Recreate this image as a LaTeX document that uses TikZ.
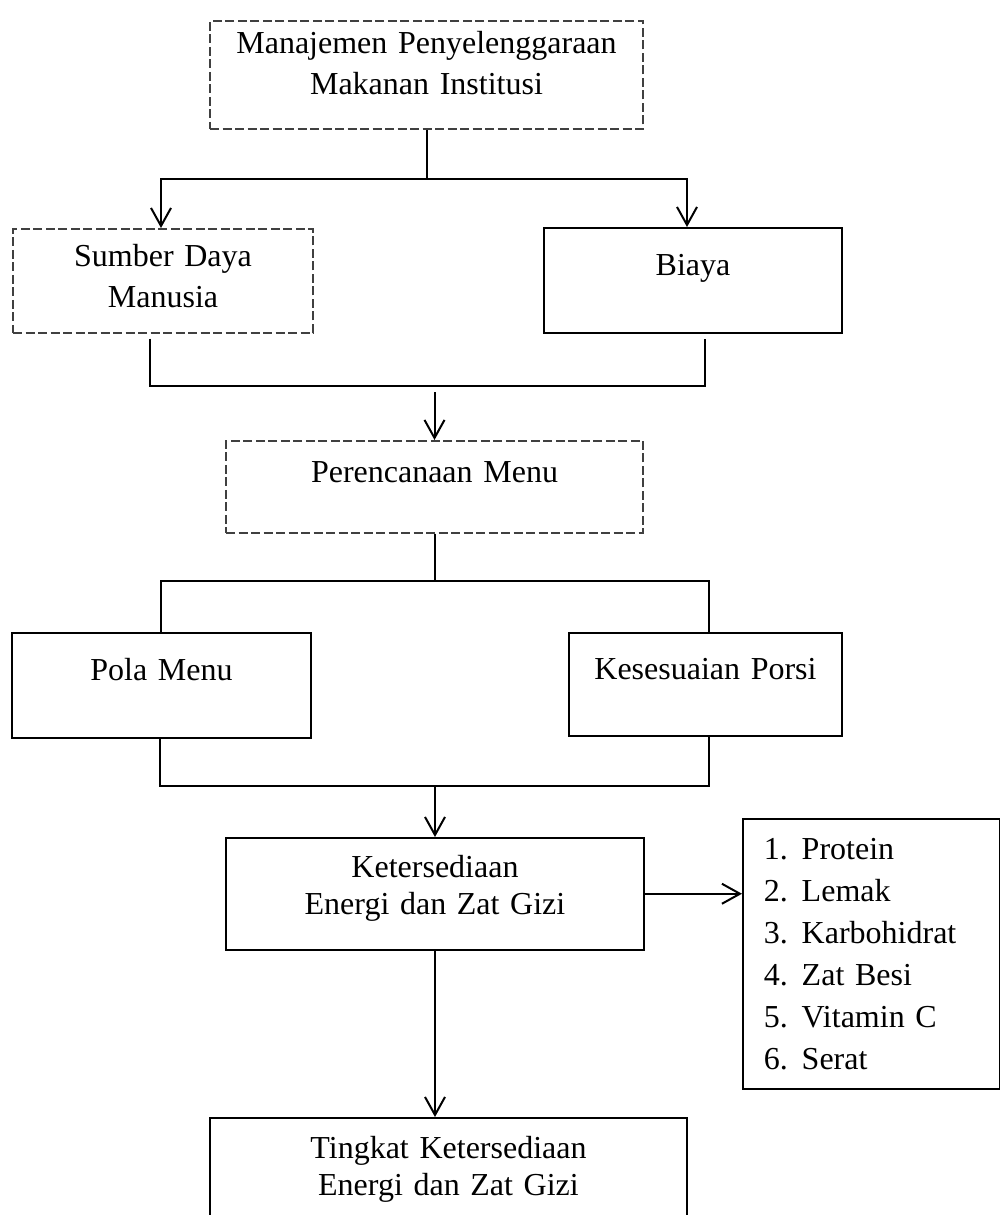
\documentclass[tikz,border=0pt]{standalone}
\usepackage{fontspec}
\setmainfont{Liberation Serif}
\usetikzlibrary{arrows.meta,positioning}
\tikzstyle{box}=[draw,rectangle,anchor=north,inner sep=0pt,align=center,line width=0.75pt,font=\fontsize{16}{20.5}\selectfont]
\tikzstyle{dashbox}=[box,draw=black!75,dash pattern=on 4.5pt off 1.75pt]
\tikzstyle{link}=[line width=1pt]

\begin{document}
\begin{tikzpicture}[>={Straight Barb[length=9pt,width=10pt]},x=0.5pt,y=-0.5pt]
	  \useasboundingbox (0,0) rectangle (1000,1215);
	  \node (M) at (426.5,20) [dashbox,text width=216.5pt,text height=16.5pt,text depth=37.5pt] {Manajemen Penyelenggaraan\\Makanan Institusi};
	  \node (S) at (163,228) [dashbox,text width=150pt,text height=19pt,text depth=33pt] {Sumber Daya\\Manusia};
	  \node (B) at (693,227) [box,text width=149pt,text height=24pt,text depth=28.5pt] {Biaya};
	  \node (P) at (434.5,440) [dashbox,text width=208.5pt,text height=21pt,text depth=25pt] {Perencanaan Menu};
	  \node (PM) at (161.5,632) [box,text width=149.5pt,text height=24pt,text depth=28.5pt] {Pola Menu};
	  \node (KP) at (705.5,632) [box,text width=136.5pt,text height=23.5pt,text depth=28pt] {Kesesuaian Porsi};
	  \node (K) at (435,837) [box,font=\fontsize{16}{18.3}\selectfont,text width=209pt,text height=20pt,text depth=36pt] {Ketersediaan\\Energi dan Zat Gizi};
	  \node (L) at (742,818) [box,anchor=north west,align=left,inner xsep=10.5pt,font=\fontsize{16}{21}\selectfont,text width=107.5pt,text height=20.5pt,text depth=114.5pt] {1.\hspace{7pt}Protein\\2.\hspace{7pt}Lemak\\3.\hspace{7pt}Karbohidrat\\4.\hspace{7pt}Zat Besi\\5.\hspace{7pt}Vitamin C\\6.\hspace{7pt}Serat};
	  \node (T) at (448.5,1117) [box,font=\fontsize{16}{18.3}\selectfont,text width=238.5pt,text height=20.5pt,text depth=31pt] {Tingkat Ketersediaan\\Energi dan Zat Gizi};
	  \coordinate (jS) at (161,179);
	  \coordinate (jB) at (687,179);
	  \coordinate (jL) at (150,386);
	  \coordinate (jR) at (705,386);
	  \coordinate (jP) at (161,581);
	  \coordinate (jK) at (709,581);
	  \coordinate (jL2) at (160,786);
	  \coordinate (jR2) at (709,786);
	  \draw [link] (M.south) -- (M.south |- jS);
	  \draw [link,<->] (S.north -| jS) |- (jB) -- (jB |- B.north);
	  \draw [link] ([yshift=-2.5pt]S.south -| jL) |- (jR) -- ([yshift=-2.5pt]B.south -| jR);
	  \draw [link,->] ([yshift=-3pt]jL -| P.north) -- (P.north);
	  \draw [link] (P.south) -- (P.south |- jP);
	  \draw [link] (PM.north -| jP) |- (jK) -- (jK |- KP.north);
	  \draw [link] (PM.south -| jL2) |- (jR2) -- (jR2 |- KP.south);
	  \draw [link,->] (K.north |- jL2) -- (K.north);
	  \draw [link,->] (K.east) -- (K.east -| L.west);
	  \draw [link,->] (K.south) -- (K.south |- T.north);
    %
    \end{tikzpicture}
\end{document}
